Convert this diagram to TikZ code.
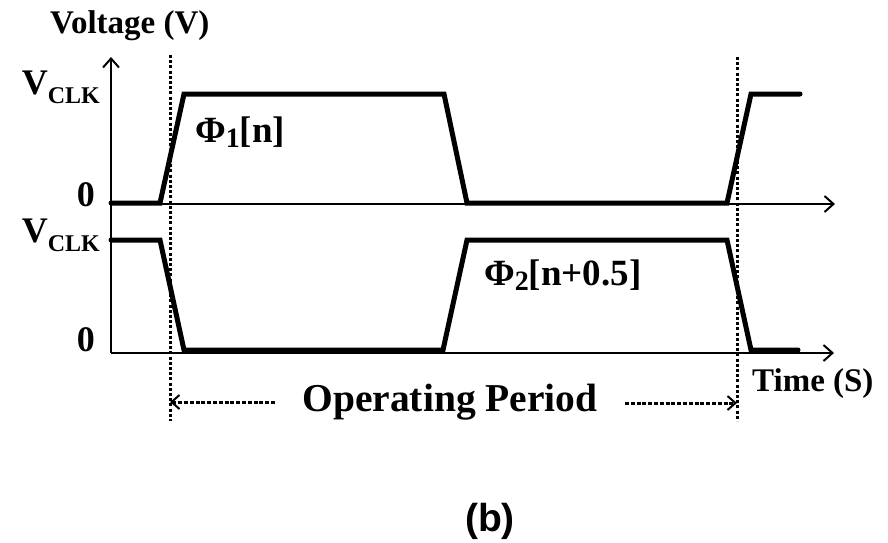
\documentclass[tikz,border=0pt]{standalone}
\usepackage{fontspec}
\setmainfont{Liberation Serif}
\newfontfamily\arialfont{Liberation Sans}
\usetikzlibrary{arrows.meta}
\tikzset{
  wave/.style={line width=5pt, line cap=round, line join=miter},
  axis/.style={line width=2pt, -{Straight Barb[length=9pt,width=16pt,line width=2pt]}},
  vdot/.style={line width=3pt, dash pattern=on 3pt off 2.2pt},
  hdash/.style={line width=3pt, dash pattern=on 4pt off 1.8pt, -{Straight Barb[length=8pt,width=14pt,line width=2pt]}},
  lbl/.style={inner sep=0pt, font=\bfseries\fontsize{36}{40}\selectfont},
  big/.style={inner sep=0pt, font=\bfseries\fontsize{33}{37}\selectfont},
  phil/.style={inner sep=0pt, font=\bfseries\fontsize{37}{41}\selectfont},
}
\newcommand{\clksub}{\raisebox{-9pt}{\fontsize{24}{26}\selectfont CLK}}
\newcommand{\phisub}[1]{\raisebox{-5pt}{\fontsize{28}{30}\selectfont #1}}
\begin{document}
\begin{tikzpicture}[x=1pt,y=-1pt]
\useasboundingbox (0,0) rectangle (888,542);
% axes
\coordinate (o1) at (111,204);
\coordinate (x1) at (835,204);
\coordinate (o2) at (111,353);
\coordinate (x2) at (834,353);
\coordinate (yt) at (111,57);
\draw[axis] (o2) -- (yt);
\draw[axis] (o1) -- (x1);
\draw[axis] (o2) -- (x2);
% dotted markers
\coordinate (d1t) at (170,55);
\coordinate (d1b) at (170,421);
\coordinate (d2t) at (737,57);
\coordinate (d2b) at (737,421);
\draw[vdot] (d1t) -- (d1b);
\draw[vdot] (d2t) -- (d2b);
% waveforms
\draw[wave] (111,203) -- (160,203) -- (184,94) -- (444,94) -- (467,203) -- (727,203) -- (751,94) -- (800,94);
\draw[wave] (111,240) -- (160,240) -- (184,350) -- (443,350) -- (467,240) -- (727,240) -- (751,350) -- (798,350);
% labels
\node[big, anchor=base west] (vlab) at (50,33) {Voltage (V)};
\node[lbl, anchor=base east] (vclk1) at (100,94) {V\clksub};
\node[lbl, anchor=base east] (z1) at (95,206) {0};
\node[lbl, anchor=base east] (vclk2) at (100,242) {V\clksub};
\node[lbl, anchor=base east] (z2) at (95,351) {0};
\node[phil, anchor=base west] (p1) at (195,142) {Φ\phisub{1}[n]};
\node[phil, anchor=base west] (p2) at (484,285) {Φ\phisub{2}[n+0.5]};
\node[big, anchor=base west] (tlab) at (752,391) {Time (S)};
\node[inner sep=0pt, font=\bfseries\fontsize{39.5}{43}\selectfont, anchor=base] (op) at (450,411) {Operating Period};
% operating period arrows
\coordinate (al) at (275,402);
\coordinate (ar) at (625,403);
\draw[hdash] (al) -- (170,402);
\draw[hdash] (ar) -- (737,403);
\node[inner sep=0pt, font=\arialfont\bfseries\fontsize{39}{43}\selectfont] (b) at (490,521) {(b)};
\end{tikzpicture}
\end{document}
